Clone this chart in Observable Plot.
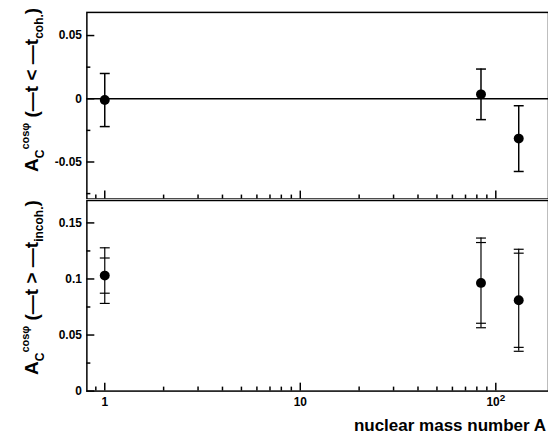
<!DOCTYPE html>
<html><head><meta charset="utf-8">
<script src="https://cdn.jsdelivr.net/npm/d3@7"></script>
<script src="https://cdn.jsdelivr.net/npm/@observablehq/plot@0.6"></script>
<style>
html,body{margin:0;padding:0;background:#fff;overflow:hidden}
#chart{position:relative;width:548px;height:437px;overflow:hidden}
#chart > svg{position:absolute;left:0}
</style>
</head><body>
<div id="chart"></div>
<script>
// nuclear mass number of the targets (H, Kr, Xe)
const massNumber = [1, 84, 131];
// top panel: A_C^{cos phi} for -t < -t_coh.
const cohValue = [-0.001, 0.0035, -0.0315];
const cohErr = [0.021, 0.020, 0.026];
// bottom panel: A_C^{cos phi} for -t > -t_incoh.
const incohValue = [0.103, 0.0965, 0.081];
const incohStat = [0.0157, 0.036, 0.042];
const incohTotal = [0.0248, 0.040, 0.0455];
// ticks
const xMajor = [1, 10, 100];
const xMinor = [0.9, 2, 3, 4, 5, 6, 7, 8, 9, 20, 30, 40, 50, 60, 70, 80, 90];
const xTickLabels = ["1", "10", "10\u00B2"];
const yTopMajor = [-0.05, 0, 0.05];
const yTopMinor = [-0.075, -0.025, 0.025];
const yBotMajor = [0, 0.05, 0.1, 0.15];
const yBotMinor = [0.025, 0.075, 0.125];

const coh = massNumber.map((A, i) => ({A, v: cohValue[i], lo: cohValue[i] - cohErr[i], hi: cohValue[i] + cohErr[i]}));
const incoh = massNumber.map((A, i) => ({A, v: incohValue[i],
  slo: incohValue[i] - incohStat[i], shi: incohValue[i] + incohStat[i],
  tlo: incohValue[i] - incohTotal[i], thi: incohValue[i] + incohTotal[i]}));

const cap = {draw(ctx, size) { const w = Math.sqrt(size / Math.PI); ctx.moveTo(-w, 0); ctx.lineTo(w, 0); }};
const font = "'Liberation Sans', Arial, Helvetica, sans-serif";
const xScale = {type: "log", domain: [0.81, 186], range: [87, 552]};
const sw = 1.5;

function yFmt(d) { return d === 0 ? "0" : String(d); }
function xFmt(d) { return xTickLabels[xMajor.indexOf(d)]; }

function inwardTicks(yMajor, yMinor, withXLabels) {
  const m = [
    Plot.axisY(yMajor, {anchor: "left", tickSize: -8, fill: "none", strokeWidth: sw}),
    Plot.axisY(yMinor, {anchor: "left", tickSize: -4, fill: "none", strokeWidth: sw}),
    Plot.axisY(yMajor, {anchor: "left", tickSize: 0, tickPadding: 5, tickFormat: yFmt, label: null, fontSize: 12, fontWeight: "bold"}),
    Plot.axisX(xMajor, {anchor: "bottom", tickSize: -8, fill: "none", strokeWidth: sw}),
    Plot.axisX(xMinor, {anchor: "bottom", tickSize: -4, fill: "none", strokeWidth: sw})
  ];
  if (withXLabels) m.push(Plot.axisX(xMajor, {anchor: "bottom", tickSize: 0, tickPadding: 6, tickFormat: xFmt, label: null, fontSize: 12, fontWeight: "bold"}));
  return m;
}

const topPlot = Plot.plot({
  width: 552, height: 200, marginLeft: 87, marginRight: 0, marginTop: 12, marginBottom: 0,
  style: {fontFamily: font, background: "transparent", color: "black"},
  x: {...xScale, axis: null},
  y: {domain: [-0.0793, 0.0683], axis: null},
  marks: [
    Plot.frame({stroke: "black", strokeWidth: sw}),
    Plot.ruleY([0], {stroke: "black", strokeWidth: sw}),
    ...inwardTicks(yTopMajor, yTopMinor, false),
    Plot.ruleX(coh, {x: "A", y1: "lo", y2: "hi", stroke: "black", strokeWidth: sw}),
    Plot.dot(coh, {x: "A", y: "lo", symbol: cap, r: 5, stroke: "black", strokeWidth: sw}),
    Plot.dot(coh, {x: "A", y: "hi", symbol: cap, r: 5, stroke: "black", strokeWidth: sw}),
    Plot.dot(coh, {x: "A", y: "v", r: 5, fill: "black", stroke: "none"})
  ]
});

const botPlot = Plot.plot({
  width: 552, height: 238, marginLeft: 87, marginRight: 0, marginTop: 1, marginBottom: 45,
  style: {fontFamily: font, background: "transparent", color: "black"},
  x: {...xScale, axis: null},
  y: {domain: [0, 0.17], axis: null},
  marks: [
    Plot.frame({stroke: "black", strokeWidth: sw}),
    ...inwardTicks(yBotMajor, yBotMinor, true),
    Plot.ruleX(incoh, {x: "A", y1: "tlo", y2: "thi", stroke: "black", strokeWidth: 1.2}),
    Plot.dot(incoh, {x: "A", y: "tlo", symbol: cap, r: 5, stroke: "black", strokeWidth: 1.2}),
    Plot.dot(incoh, {x: "A", y: "thi", symbol: cap, r: 5, stroke: "black", strokeWidth: 1.2}),
    Plot.dot(incoh, {x: "A", y: "slo", symbol: cap, r: 5, stroke: "black", strokeWidth: 1.2}),
    Plot.dot(incoh, {x: "A", y: "shi", symbol: cap, r: 5, stroke: "black", strokeWidth: 1.2}),
    Plot.dot(incoh, {x: "A", y: "v", r: 5, fill: "black", stroke: "none"})
  ]
});

// render "10²" with a real raised 2, like the original
d3.select(botPlot).selectAll("text").each(function() {
  if (this.textContent === "10\u00B2") {
    const t = d3.select(this);
    t.text("10");
    t.append("tspan").attr("dy", "-0.5em").attr("font-size", 10).text("2");
  }
});

const chart = document.getElementById("chart");
topPlot.style.top = "0px";
botPlot.style.top = "199px";
chart.appendChild(topPlot);
chart.appendChild(botPlot);

// overlay for axis titles
const ov = d3.select(chart).append("svg")
  .attr("width", 548).attr("height", 437)
  .style("position", "absolute").style("left", "0px").style("top", "0px")
  .style("pointer-events", "none")
  .attr("font-family", font).attr("font-weight", "bold").attr("fill", "black");

function yTitle(x, y, sub) {
  const t = ov.append("text").attr("transform", `translate(${x},${y}) rotate(-90)`).attr("font-size", 19);
  t.append("tspan").text("A");
  t.append("tspan").attr("font-size", 12).attr("dy", 6).text("C");
  t.append("tspan").attr("font-size", 11).attr("dy", -15).text("cos\u03C6");
  t.append("tspan").attr("dy", 9).text(" (\u2014t " + (sub === "coh." ? "<" : ">") + " \u2014t");
  t.append("tspan").attr("font-size", 12).attr("dy", 5).text(sub);
  t.append("tspan").attr("dy", -5).text(")");
}
yTitle(38, 172, "coh.");
yTitle(38, 375, "incoh.");

ov.append("text").attr("x", 546).attr("y", 431).attr("text-anchor", "end")
  .attr("font-size", 17).text("nuclear mass number A");
</script>
</body></html>
